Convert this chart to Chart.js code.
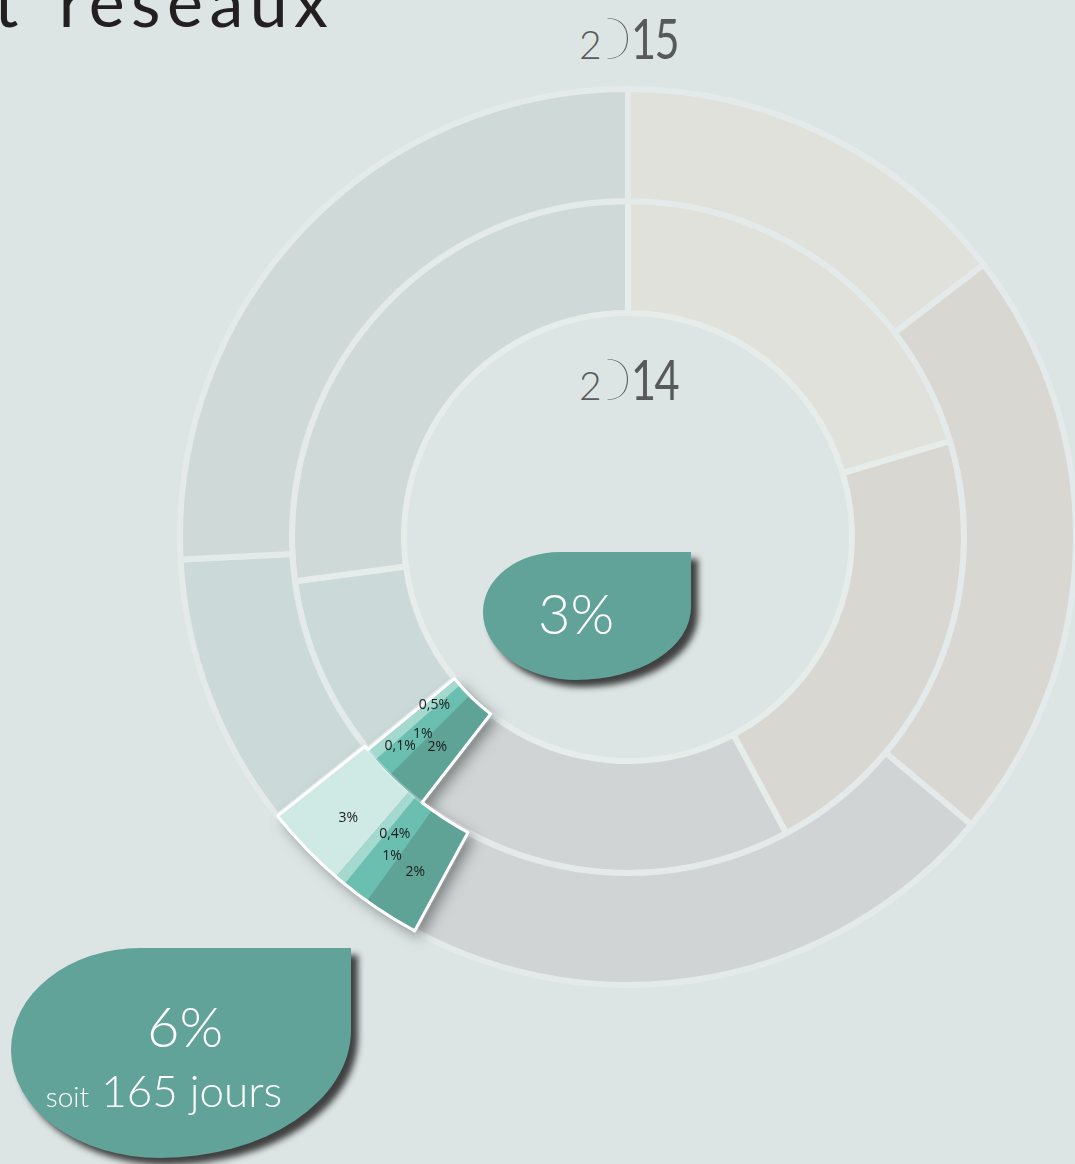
<!DOCTYPE html>
<html lang="fr">
<head>
<meta charset="utf-8">
<title>Disponibilité des équipements et réseaux</title>
<script src="https://cdn.jsdelivr.net/npm/chart.js@4.4.1/dist/chart.umd.min.js"></script>
<style>
  html, body { margin: 0; padding: 0; }
  body {
    width: 1075px; height: 1164px; position: relative; overflow: hidden;
    background: #dce5e4; font-family: Lato, "Open Sans", sans-serif;
  }
  #wrap { position: absolute; left: 177px; top: 86px; width: 902px; height: 902px; }
  .title {
    position: absolute; left: -6px; top: -33px; font-size: 68px; font-weight: 400;
    color: #231f20; line-height: 1; white-space: nowrap; letter-spacing: 6.5px; word-spacing: 10px;
  }
  .year {
    position: absolute; font-size: 57px; line-height: 1; color: #58595b; white-space: nowrap;
  }
  .year .y2 { font-size: 39px; font-weight: 300; }
  .year .y0 {
    display: inline-block; font-weight: 100; margin-left: -11px;
    transform: scaleX(1.45); clip-path: inset(0 0 0 50%);
  }
  .year .yr {
    display: inline-block; font-weight: 400; letter-spacing: -2px; margin-left: 7px;
    transform: scaleX(0.76); transform-origin: left center;
  }
  .leaf {
    position: absolute; background: #62a399; color: #fff; text-align: center;
    box-shadow: 7px 7px 6px rgba(55, 55, 55, 0.95);
  }
  #leaf2014 {
    left: 483px; top: 552px; width: 208px; height: 128px;
    border-radius: 77px 0 115px 94px / 60px 0 73px 68px;
  }
  #leaf2014 .big { position: absolute; left: 0; right: 0; top: 33px; font-size: 56px; font-weight: 300; line-height: 1; padding-right: 22px; }
  #leaf2015 {
    left: 11px; top: 948px; width: 340px; height: 210px;
    border-radius: 129px 0 191px 149px / 102px 0 128px 108px;
  }
  #leaf2015 .big { position: absolute; left: 0; right: 0; top: 50px; font-size: 56px; font-weight: 300; line-height: 1; padding-left: 8px; }
  #leaf2015 .sub { position: absolute; left: 0; right: 0; top: 120px; font-size: 44px; font-weight: 300; line-height: 1; padding-right: 34px; }
  #leaf2015 .sub small { font-size: 28px; }
</style>
</head>
<body>
<div class="title">t réseaux</div>
<div class="year" style="left:579px; top:9px;"><span class="y2">2</span><span class="y0">0</span><span class="yr">15</span></div>
<div class="year" style="left:579px; top:350px;"><span class="y2">2</span><span class="y0">0</span><span class="yr">14</span></div>
<div id="wrap"><canvas id="rings" width="902" height="902"></canvas></div>
<div class="leaf" id="leaf2014"><div class="big" id="total2014"></div></div>
<div class="leaf" id="leaf2015"><div class="big" id="total2015"></div><div class="sub"><small>soit</small> <span id="days2015"></span> jours</div></div>

<script>
// Ring categories, listed clockwise from 12 o'clock
const categories = ['Secteur A', 'Secteur B', 'Secteur C', 'Part 1', 'Part 2', 'Part 3', 'Part 4', 'Secteur D', 'Secteur E'];

// Outer ring: 2015 (%)
const values2015 = [14.6, 21.5, 21.8, 2, 1, 0.4, 3, 9.9, 25.8];
// Inner ring: 2014 (%)
const values2014 = [20.4, 21.8, 18.3, 2, 1, 0.5, 0.1, 8.8, 27.1];

// Highlighted slice indices (the labelled shares)
const highlighted = [3, 4, 5, 6];

// Callout figures
const total2014 = 3;
const total2015 = 6;
const days2015 = 165;

const sliceColors = ['#dfe1da', '#d8d7d2', '#d0d4d4', '#5fa397', '#6bbfb0', '#a4d9cf', '#cfe9e5', '#cbdad9', '#cfd9d8'];

document.getElementById('total2014').textContent = total2014 + '%';
document.getElementById('total2015').textContent = total2015 + '%';
document.getElementById('days2015').textContent = days2015;

const fmt = v => String(v).replace('.', ',') + '%';

// Highlighted block: drop shadow, white outline around the group, value labels
const highlightPlugin = {
  id: 'highlightBlock',
  afterDatasetsDraw(chart, args, opts) {
    const ctx = chart.ctx;
    const keys = ['x', 'y', 'startAngle', 'endAngle', 'innerRadius', 'outerRadius'];
    const groups = [0, 1].map(d => {
      const els = highlighted.map(i => chart.getDatasetMeta(d).data[i]);
      const first = els[0].getProps(keys, true);
      const last = els[els.length - 1].getProps(keys, true);
      return { els, cx: first.x, cy: first.y, a1: first.startAngle, a2: last.endAngle, r0: first.innerRadius, r1: first.outerRadius };
    });
    const O = groups[0], I = groups[1];
    const cx = O.cx, cy = O.cy;
    const pt = (r, a) => [cx + r * Math.cos(a), cy + r * Math.sin(a)];

    const path = () => {
      ctx.beginPath();
      ctx.arc(cx, cy, O.r1, O.a1, O.a2, false);
      ctx.lineTo(...pt(O.r0, O.a2));
      ctx.arc(cx, cy, O.r0, O.a2, I.a2, I.a2 < O.a2);
      ctx.lineTo(...pt(I.r0, I.a2));
      ctx.arc(cx, cy, I.r0, I.a2, I.a1, true);
      ctx.lineTo(...pt(I.r1, I.a1));
      ctx.arc(cx, cy, O.r0, I.a1, O.a1, I.a1 > O.a1);
      ctx.closePath();
    };

    ctx.save();
    ctx.shadowColor = 'rgba(50, 55, 55, 0.55)';
    ctx.shadowBlur = 14;
    ctx.shadowOffsetX = 6;
    ctx.shadowOffsetY = 6;
    path();
    ctx.fillStyle = '#5fa397';
    ctx.fill();
    ctx.restore();

    groups.forEach(g => g.els.forEach(el => el.draw(ctx)));

    // faint ring seam running through the block
    ctx.save();
    ctx.beginPath();
    ctx.arc(cx, cy, O.r0, Math.min(O.a1, I.a1), Math.max(O.a2, I.a2), false);
    ctx.strokeStyle = 'rgba(255,255,255,0.25)';
    ctx.lineWidth = 3;
    ctx.stroke();
    ctx.restore();

    ctx.save();
    path();
    ctx.strokeStyle = '#ffffff';
    ctx.lineWidth = 3;
    ctx.lineJoin = 'round';
    ctx.stroke();
    ctx.restore();

    // value labels
    ctx.save();
    ctx.font = '14px "Open Sans", "Noto Sans", sans-serif';
    ctx.fillStyle = '#1c1c1c';
    ctx.textAlign = 'center';
    ctx.textBaseline = 'middle';
    [0, 1].forEach(d => {
      const vals = chart.data.datasets[d].data;
      groups[d].els.forEach((el, k) => {
        const p = el.getProps(keys, true);
        const place = opts.placement[d][k];
        const a = (p.startAngle + p.endAngle) / 2 + place.shift * Math.PI / 180;
        const r = p.innerRadius + place.t * (p.outerRadius - p.innerRadius);
        ctx.fillText(fmt(vals[highlighted[k]]), p.x + r * Math.cos(a), p.y + r * Math.sin(a));
      });
    });
    ctx.restore();
  }
};

const borderWidths = categories.map((c, i) => highlighted.includes(i) ? 0 : 6);

new Chart(document.getElementById('rings'), {
  type: 'doughnut',
  data: {
    labels: categories,
    datasets: [
      { label: '2015', data: values2015, backgroundColor: sliceColors, borderColor: '#e3eae9', borderWidth: borderWidths },
      { label: '2014', data: values2014, backgroundColor: sliceColors, borderColor: '#e6ecea', borderWidth: borderWidths }
    ]
  },
  options: {
    responsive: false,
    animation: false,
    events: [],
    cutout: '50%',
    layout: { padding: 0 },
    plugins: {
      legend: { display: false },
      tooltip: { enabled: false },
      highlightBlock: {
        placement: [
          [ { t: 0.54, shift: 0.4 }, { t: 0.54, shift: -0.9 }, { t: 0.37, shift: -1.8 }, { t: 0.54, shift: -1.2 } ],
          [ { t: 0.53, shift: 0.9 }, { t: 0.54, shift: -0.6 }, { t: 0.29, shift: -0.5 }, { t: 0.76, shift: -3.1 } ]
        ]
      }
    }
  },
  plugins: [highlightPlugin]
});
</script>
</body>
</html>
